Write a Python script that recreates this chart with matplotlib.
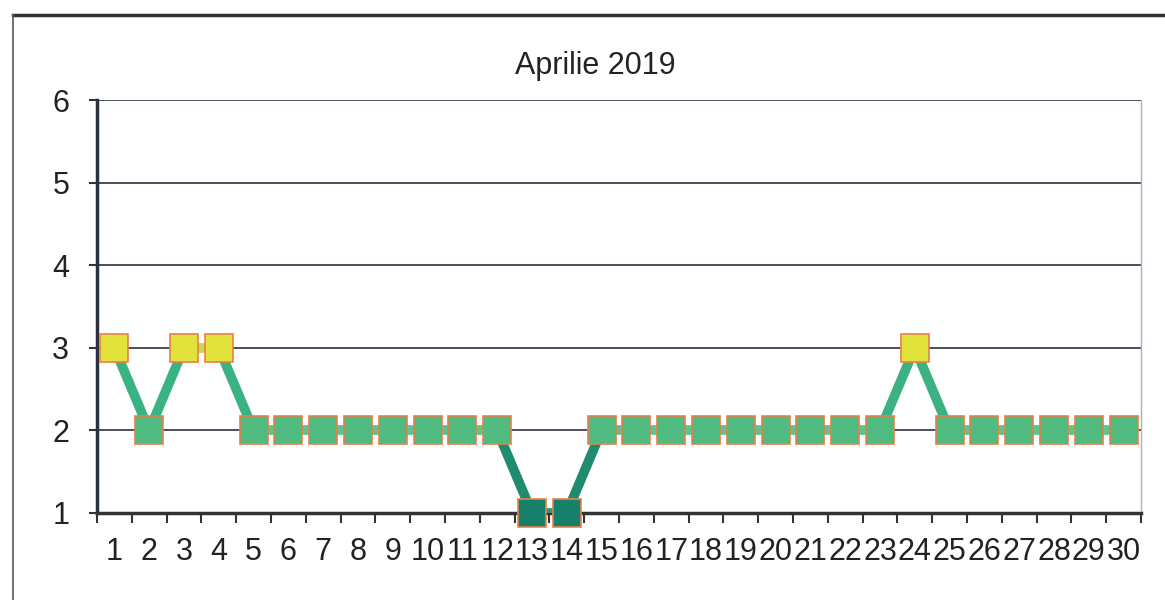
import matplotlib
matplotlib.use("Agg")
import matplotlib.pyplot as plt
from matplotlib import font_manager

days = list(range(1, 31))
values = [3, 2, 3, 3, 2, 2, 2, 2, 2, 2, 2, 2, 1, 1, 2,
          2, 2, 2, 2, 2, 2, 2, 2, 3, 2, 2, 2, 2, 2, 2]
title = "Aprilie 2019"
yticks = [1, 2, 3, 4, 5, 6]

marker_colors = {3: "#e2e23c", 2: "#4fbb80", 1: "#17806a"}

def seg_color(a, b):
    if a == b == 3:
        return "#c8d84a"
    if a == b == 2:
        return "#5cc48c"
    if a == b == 1:
        return "#2a9a7a"
    if min(a, b) == 1:
        return "#1f8c70"
    return "#3bb282"

names = {f.name for f in font_manager.fontManager.ttflist}
fam = ['Liberation Sans Narrow', 'Liberation Sans', 'DejaVu Sans']
fam = [f for f in fam if f in names] or ['DejaVu Sans']
plt.rcParams['font.family'] = fam

fig = plt.figure(figsize=(11.65, 6.0), dpi=100)
ax = fig.add_axes([97/1165, 1 - 513/600, (1141-97)/1165, (513-100)/600])

# outer chart frame
fig.add_artist(plt.Line2D([13/1165, 1.0], [1 - 15/600, 1 - 15/600],
                          transform=fig.transFigure, color="#333333", linewidth=2.5))
fig.add_artist(plt.Line2D([13/1165, 13/1165], [0, 1 - 15/600],
                          transform=fig.transFigure, color="#555566", linewidth=1.2))

x = list(range(len(days)))
for i in range(len(values) - 1):
    ax.plot([x[i], x[i+1]], [values[i], values[i+1]],
            color=seg_color(values[i], values[i+1]), linewidth=7,
            solid_capstyle="butt", zorder=3)
for xi, v in zip(x, values):
    ax.plot(xi, v, marker="s", markersize=20.5, markerfacecolor=marker_colors[v],
            markeredgecolor="#e8804a", markeredgewidth=1.2, zorder=4,
            clip_on=False)

ax.set_xlim(-0.5, len(days) - 0.5)
ax.set_ylim(1, 6)
ax.set_yticks(yticks)
ax.set_yticklabels([str(t) for t in yticks], fontsize=22, color="#222222")
ax.set_xticks(x)
ax.set_xticklabels([str(d) for d in days], fontsize=22, color="#222222")
ax.set_xticks([i - 0.5 for i in range(len(days) + 1)], minor=True)
ax.tick_params(axis="x", which="major", length=0, pad=17)
ax.tick_params(axis="x", which="minor", length=7, width=1.5, color="#333333", direction="out")
ax.tick_params(axis="y", length=6, width=1.5, color="#333333", pad=14)

for t in yticks[1:]:
    ax.axhline(t, color="#3a4050", linewidth=1.3, zorder=1)

for s in ["top", "right"]:
    ax.spines[s].set_visible(False)
ax.spines["left"].set_color("#2a3040")
ax.spines["left"].set_linewidth(2.5)
ax.spines["bottom"].set_color("#333333")
ax.spines["bottom"].set_linewidth(2.5)
ax.plot([1, 1], [0, 1], transform=ax.transAxes, color="#a8b0d0", linewidth=1, clip_on=False)

fig.text(595/1165, 1 - 66/600, title, fontsize=22, ha="center", va="center", color="#222222")

fig.savefig("out.png", dpi=100, facecolor="white")
